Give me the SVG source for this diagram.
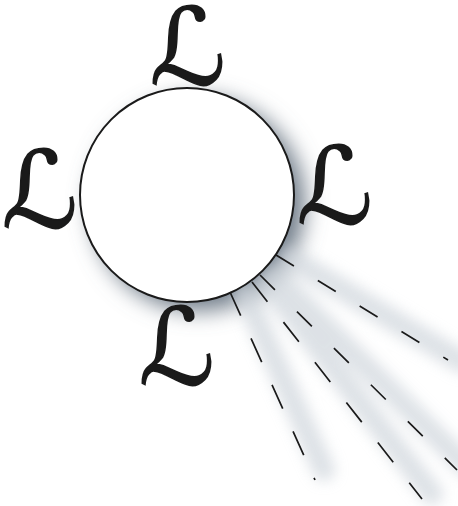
<svg xmlns="http://www.w3.org/2000/svg" width="458" height="506" viewBox="0 0 458 506">
<defs>
<style>
.L{font-family:"DejaVu Sans",sans-serif;font-size:106px;font-style:oblique;fill:#1a1a1a;stroke:#1a1a1a;stroke-width:1.5;text-anchor:middle}
.ray{stroke:#1a1a1a;stroke-width:1.7;fill:none}
.rs{stroke:#cfd5dc;stroke-width:22;fill:none;stroke-linecap:round}
</style>
<filter id="blur" x="-50%" y="-50%" width="200%" height="200%"><feGaussianBlur stdDeviation="11"/></filter>
<filter id="blur2" x="-50%" y="-50%" width="200%" height="200%"><feGaussianBlur stdDeviation="7"/></filter>
</defs>
<g id="shadows">
<circle cx="198" cy="204" r="107" fill="#6f7b88" filter="url(#blur)"/>
<g filter="url(#blur2)" opacity="0.7">
<line class="rs" x1="244" y1="292" x2="324" y2="470"/>
<line class="rs" x1="266" y1="282" x2="432" y2="494"/>
<line class="rs" x1="274" y1="275" x2="466" y2="466"/>
<line class="rs" x1="290" y1="258" x2="462" y2="362"/>
</g>
</g>
<g id="node-circle">
<circle cx="187" cy="195" r="107" fill="#fff" stroke="#1a1a1a" stroke-width="2"/>
</g>
<g id="connectors">
<line class="ray" x1="230" y1="292" x2="315" y2="480" stroke-dasharray="26 25"/>
<line class="ray" x1="252" y1="282" x2="422" y2="499" stroke-dasharray="25 26"/>
<line class="ray" x1="260" y1="275" x2="457" y2="470" stroke-dasharray="21 31"/>
<line class="ray" x1="276" y1="255" x2="448" y2="360" stroke-dasharray="21 28"/>
</g>
<g id="label-top"><text class="L" x="188" y="84">ℒ</text></g>
<g id="label-left"><text class="L" x="40" y="227">ℒ</text></g>
<g id="label-right"><text class="L" x="335" y="223">ℒ</text></g>
<g id="label-bottom"><text class="L" x="177" y="384">ℒ</text></g>
</svg>
